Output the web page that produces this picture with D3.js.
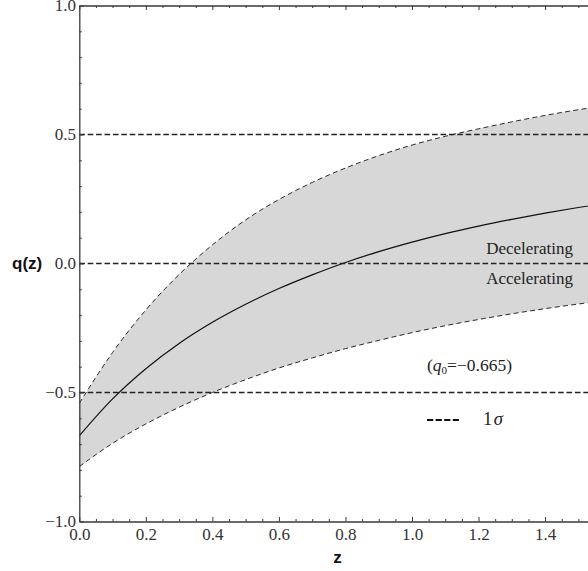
<!DOCTYPE html>
<html>
<head>
<meta charset="utf-8">
<script src="https://cdn.jsdelivr.net/npm/d3@7"></script>
<style>
  html, body { margin: 0; padding: 0; background: #fff; }
  svg { display: block; }
</style>
</head>
<body>
<svg id="chart" width="588" height="571"></svg>
<script>
// ---- data ----
const zValues     = [0.0, 0.1, 0.2, 0.3, 0.4, 0.5, 0.6, 0.7, 0.8, 0.9, 1.0, 1.1, 1.2, 1.3, 1.4, 1.5, 1.6];
const qCentral    = [-0.668, -0.525, -0.408, -0.310, -0.228, -0.158, -0.097, -0.044, 0.004, 0.046, 0.083, 0.116, 0.145, 0.171, 0.195, 0.217, 0.237];
const qUpper      = [-0.542, -0.345, -0.180, -0.043, 0.072, 0.169, 0.248, 0.314, 0.370, 0.418, 0.459, 0.493, 0.522, 0.549, 0.574, 0.596, 0.616];
const qLower      = [-0.787, -0.697, -0.622, -0.557, -0.500, -0.450, -0.405, -0.366, -0.330, -0.298, -0.268, -0.241, -0.217, -0.195, -0.175, -0.157, -0.141];
const refLines    = [0.5, 0.0, -0.5];
const xMajorTicks = [0.0, 0.2, 0.4, 0.6, 0.8, 1.0, 1.2, 1.4];
const yMajorTicks = [-1.0, -0.5, 0.0, 0.5, 1.0];
const xLabel = "z";
const yLabel = "q(z)";
const regionLabels = ["Decelerating", "Accelerating"];
const q0Label = "−0.665";
const legendLabel = "1σ";

// ---- layout ----
const svg = d3.select("#chart");
const W = 588, H = 571;
const mLeft = 79.3, mTop = 5.5, mBottom = 521.5;
const x = d3.scaleLinear().domain([0, 1.6]).range([mLeft, mLeft + 1.6 * 332.7]);
const y = d3.scaleLinear().domain([-1, 1]).range([mBottom, mTop]);

svg.append("defs").append("clipPath").attr("id", "clip")
  .append("rect").attr("x", mLeft).attr("y", mTop).attr("width", W - mLeft).attr("height", mBottom - mTop);

const plot = svg.append("g").attr("clip-path", "url(#clip)");

const pts = zValues.map((z, i) => ({ z, c: qCentral[i], u: qUpper[i], l: qLower[i] }));
const curve = d3.curveMonotoneX;

// band
plot.append("path")
  .datum(pts)
  .attr("fill", "#d7d7d7")
  .attr("d", d3.area().curve(curve).x(d => x(d.z)).y0(d => y(d.l)).y1(d => y(d.u)));

// band edges (dashed)
["u", "l"].forEach(k => {
  plot.append("path")
    .datum(pts)
    .attr("fill", "none")
    .attr("stroke", "#2a2a2a")
    .attr("stroke-width", 1)
    .attr("stroke-dasharray", "5,3.3")
    .attr("d", d3.line().curve(curve).x(d => x(d.z)).y(d => y(d[k])));
});

// central curve
plot.append("path")
  .datum(pts)
  .attr("fill", "none")
  .attr("stroke", "#111")
  .attr("stroke-width", 1.2)
  .attr("d", d3.line().curve(curve).x(d => x(d.z)).y(d => y(d.c)));

// reference lines
plot.selectAll("line.ref").data(refLines).enter().append("line")
  .attr("class", "ref")
  .attr("x1", mLeft).attr("x2", W)
  .attr("y1", d => y(d)).attr("y2", d => y(d))
  .attr("stroke", "#222")
  .attr("stroke-width", 1.5)
  .attr("stroke-dasharray", "5.6,2.8");

// ---- axes ----
const fmt = d3.format(".1f");
const axisColor = "#3a3a3a";
function styleAxis(g) {
  g.selectAll("path.domain").attr("stroke", axisColor).attr("stroke-width", 1.3);
  g.selectAll(".tick line").attr("stroke", axisColor).attr("stroke-width", 1);
  g.selectAll(".tick text").attr("fill", "#333")
    .style("font-family", "'Liberation Serif', 'Times New Roman', serif")
    .style("font-size", "17px");
}
const xMinor = d3.range(0, 1.6001, 0.05).filter(v => !xMajorTicks.some(m => Math.abs(m - v) < 1e-6));
const yMinor = d3.range(-1, 1.0001, 0.1).filter(v => !yMajorTicks.some(m => Math.abs(m - v) < 1e-6));

// bottom
svg.append("g").attr("transform", `translate(0,${mBottom})`)
  .call(d3.axisBottom(x).tickValues(xMinor).tickSizeInner(-2.5).tickSizeOuter(0).tickFormat(""))
  .call(g => g.select("path.domain").remove())
  .call(styleAxis);
svg.append("g").attr("transform", `translate(0,${mBottom})`)
  .call(d3.axisBottom(x).tickValues(xMajorTicks).tickSizeInner(-4.5).tickSizeOuter(0).tickPadding(6).tickFormat(fmt))
  .call(styleAxis);
// top
svg.append("g").attr("transform", `translate(0,${mTop})`)
  .call(d3.axisTop(x).tickValues(xMinor).tickSizeInner(-2.5).tickSizeOuter(0).tickFormat(""))
  .call(g => g.select("path.domain").remove())
  .call(styleAxis);
svg.append("g").attr("transform", `translate(0,${mTop})`)
  .call(d3.axisTop(x).tickValues(xMajorTicks).tickSizeInner(-4.5).tickSizeOuter(0).tickFormat(""))
  .call(styleAxis);
// left
svg.append("g").attr("transform", `translate(${mLeft},0)`)
  .call(d3.axisLeft(y).tickValues(yMinor).tickSizeInner(-2.5).tickSizeOuter(0).tickFormat(""))
  .call(g => g.select("path.domain").remove())
  .call(styleAxis);
svg.append("g").attr("transform", `translate(${mLeft},0)`)
  .call(d3.axisLeft(y).tickValues(yMajorTicks).tickSizeInner(-4.5).tickSizeOuter(0).tickPadding(3.3).tickFormat(fmt))
  .call(styleAxis);

// axis labels
svg.append("text")
  .attr("x", 337.5).attr("y", 562.5)
  .attr("text-anchor", "middle")
  .style("font-family", "'Liberation Sans', Arial, sans-serif")
  .style("font-weight", "bold").style("font-size", "17px").attr("fill", "#111")
  .text(xLabel);
svg.append("text")
  .attr("x", 12).attr("y", 269)
  .style("font-family", "'Liberation Sans', Arial, sans-serif")
  .style("font-weight", "bold").style("font-size", "17px").attr("fill", "#111")
  .text(yLabel);

// annotations
const serif = "'Liberation Serif', 'Times New Roman', serif";
svg.append("text").attr("x", 573).attr("y", 253.5).attr("text-anchor", "end")
  .style("font-family", serif).style("font-size", "17px").attr("fill", "#222")
  .text(regionLabels[0]);
svg.append("text").attr("x", 573).attr("y", 284).attr("text-anchor", "end")
  .style("font-family", serif).style("font-size", "17px").attr("fill", "#222")
  .text(regionLabels[1]);

const q0t = svg.append("text").attr("x", 427).attr("y", 370.5)
  .style("font-family", serif).style("font-size", "17.5px").attr("fill", "#222");
q0t.append("tspan").text("(");
q0t.append("tspan").style("font-style", "italic").text("q");
q0t.append("tspan").attr("dy", 3.5).style("font-size", "11px").text("0");
q0t.append("tspan").attr("dy", -3.5).text("=" + q0Label + ")");

// legend
svg.append("line")
  .attr("x1", 427).attr("x2", 459).attr("y1", 420).attr("y2", 420)
  .attr("stroke", "#111").attr("stroke-width", 2.2).attr("stroke-dasharray", "6.2,2.4");
const lt = svg.append("text").attr("x", 483).attr("y", 425)
  .style("font-family", serif).style("font-size", "18.5px").attr("fill", "#222");
lt.append("tspan").text(legendLabel[0]);
lt.append("tspan").attr("dx", 1.5).style("font-style", "italic").text(legendLabel.slice(1));
</script>
</body>
</html>
